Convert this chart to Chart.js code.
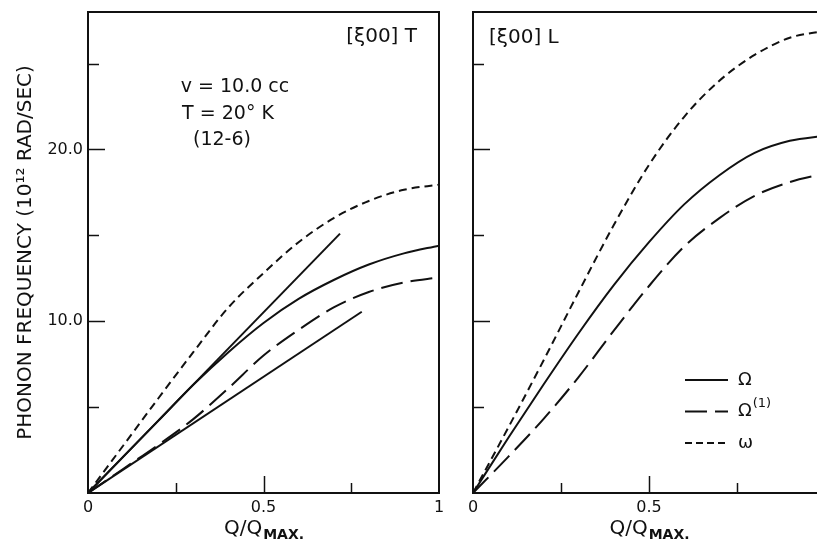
<!DOCTYPE html>
<html>
<head>
  <title>Phonon frequencies [ξ00]</title>
  <meta charset="UTF-8">
  <script src="https://cdn.jsdelivr.net/npm/chart.js"></script>
  <style>
    html, body {
      margin: 0;
      padding: 0;
      background: #fff;
      overflow: hidden;
      width: 817px;
      height: 540px;
    }
    .panel { position: absolute; top: 0; }
    #leftChart { left: 0; }
    #rightChart { left: 450px; }
  </style>
</head>
<body>
  <canvas id="leftChart" class="panel" width="460" height="540"></canvas>
  <canvas id="rightChart" class="panel" width="400" height="540"></canvas>

  <script>
    // Q/QMAX sample points of the dispersion curves
    const qValues = [0, 0.1, 0.2, 0.3, 0.4, 0.5, 0.6, 0.7, 0.8, 0.9, 1.0];

    // [ξ00] T branch (10^12 rad/sec)
    const tOmega     = [0, 2.1, 4.2, 6.3, 8.2, 9.9, 11.3, 12.4, 13.3, 13.95, 14.4];
    const tOmega1    = [0, 1.4, 2.8, 4.3, 6.1, 8.0, 9.5, 10.8, 11.7, 12.25, 12.55];
    const tOmegaBare = [0, 2.75, 5.5, 8.2, 10.8, 12.8, 14.6, 16.0, 17.0, 17.65, 17.95];
    // straight lines from the origin
    const tUpperLineQ = [0, 0.718];
    const tUpperLineF = [0, 15.1];
    const tLowerLineQ = [0, 0.78];
    const tLowerLineF = [0, 10.55];

    // [ξ00] L branch
    const lOmega     = [0, 3.2, 6.3, 9.3, 12.1, 14.6, 16.8, 18.5, 19.8, 20.5, 20.8];
    const lOmega1    = [0, 2.1, 4.3, 6.75, 9.45, 12.05, 14.35, 16.0, 17.3, 18.1, 18.6];
    const lOmegaBare = [0, 3.8, 7.7, 11.7, 15.6, 19.1, 21.9, 24.0, 25.5, 26.5, 26.9];

    // axes
    const yTickValues = [5, 10, 15, 20, 25];
    const yLabelValues = [10, 20];
    const yLabelTexts = ['10.0', '20.0'];
    const xTickValues = [0.25, 0.5, 0.75];
    const xLabelValues = [0, 0.5, 1];
    const xLabelTexts = ['0', '0.5', '1'];

    // legend
    const legendMain = ['Ω', 'Ω', 'ω'];
    const legendSup = ['', '(1)', ''];

    const INK = '#111';
    const FONT = '"DejaVu Sans", sans-serif';
    const SOLID = [];
    const LONG_DASH = [22, 8];
    const SHORT_DASH = [8, 5];

    const toPoints = (xs, ys) => xs.map((q, i) => ({ x: q, y: ys[i] }));

    const curve = (xs, ys, dash) => ({
      data: toPoints(xs, ys),
      borderColor: INK,
      borderWidth: 2,
      borderDash: dash,
      pointRadius: 0,
      fill: false,
      cubicInterpolationMode: 'monotone'
    });

    // frame, inward ticks, notes, legend and the Q/QMAX title
    const panelDecor = {
      id: 'panelDecor',
      afterDraw(chart, args, opts) {
        const { ctx, chartArea: a } = chart;
        const x = chart.scales.x, y = chart.scales.y;
        ctx.save();
        ctx.strokeStyle = INK;
        ctx.fillStyle = INK;
        ctx.lineWidth = 2;
        ctx.strokeRect(a.left, a.top, a.right - a.left, a.bottom - a.top);

        ctx.lineWidth = 1.5;
        yTickValues.forEach(v => {
          const py = Math.round(y.getPixelForValue(v)) + 0.5;
          const len = v % 10 === 0 ? 17 : 11;
          ctx.beginPath();
          ctx.moveTo(a.left, py);
          ctx.lineTo(a.left + len, py);
          ctx.stroke();
        });
        xTickValues.forEach(v => {
          const px = Math.round(x.getPixelForValue(v)) + 0.5;
          const len = v === 0.5 ? 17 : 10;
          ctx.beginPath();
          ctx.moveTo(px, a.bottom);
          ctx.lineTo(px, a.bottom - len);
          ctx.stroke();
        });

        ctx.textBaseline = 'middle';
        (opts.notes || []).forEach(n => {
          ctx.font = (n.size || 18) + 'px ' + FONT;
          ctx.textAlign = n.align || 'center';
          ctx.fillText(n.text, n.x, n.y);
        });

        if (opts.legend) {
          const L = opts.legend;
          const styles = [SOLID, LONG_DASH, [7, 4]];
          legendMain.forEach((txt, i) => {
            const ly = L.y + i * L.gap;
            ctx.lineWidth = 2;
            ctx.setLineDash(styles[i]);
            ctx.beginPath();
            ctx.moveTo(L.x, ly);
            ctx.lineTo(L.x + L.len, ly);
            ctx.stroke();
            ctx.setLineDash([]);
            ctx.textAlign = 'left';
            ctx.font = '18px ' + FONT;
            ctx.fillText(txt, L.x + L.len + 10, ly);
            if (legendSup[i]) {
              const w = ctx.measureText(txt).width;
              ctx.font = '13px ' + FONT;
              ctx.fillText(legendSup[i], L.x + L.len + 11 + w, ly - 8);
            }
          });
        }

        // x title: Q/Q with subscript MAX.
        const cx = (a.left + a.right) / 2;
        const ty = chart.height - 11;
        ctx.font = '20px ' + FONT;
        const main = 'Q/Q';
        const wMain = ctx.measureText(main).width;
        ctx.font = 'bold 14px ' + FONT;
        const sub = 'MAX.';
        const wSub = ctx.measureText(sub).width;
        const start = (opts.titleX !== undefined ? opts.titleX : cx) - (wMain + wSub) / 2;
        ctx.textAlign = 'left';
        ctx.font = '20px ' + FONT;
        ctx.fillText(main, start, ty);
        ctx.font = 'bold 14px ' + FONT;
        ctx.fillText(sub, start + wMain + 1, ty + 6);
        ctx.restore();
      }
    };

    function makeOptions(withLabels, yAxisWidth, padRight, decor) {
      return {
        responsive: false,
        animation: false,
        devicePixelRatio: 1,
        layout: { padding: { top: 12, right: padRight, left: 0, bottom: 0 } },
        scales: {
          x: {
            type: 'linear',
            min: 0,
            max: 1,
            grid: { display: false, drawTicks: false },
            border: { display: false },
            afterFit: s => {
              s.height = 47;
              s.paddingLeft = 0;
              s.paddingRight = 0;
            },
            ticks: {
              stepSize: 0.25,
              autoSkip: false,
              maxRotation: 0,
              padding: 5,
              color: INK,
              font: { family: FONT, size: 16 },
              callback: v => {
                const i = xLabelValues.indexOf(v);
                return i >= 0 ? xLabelTexts[i] : '';
              }
            }
          },
          y: {
            min: 0,
            max: 28,
            grid: { display: false, drawTicks: false },
            border: { display: false },
            afterFit: s => {
              s.width = yAxisWidth;
              s.paddingTop = 0;
              s.paddingBottom = 0;
            },
            ticks: {
              display: withLabels,
              stepSize: 5,
              autoSkip: false,
              padding: 5,
              color: INK,
              font: { family: FONT, size: 16 },
              callback: v => {
                const i = yLabelValues.indexOf(v);
                return i >= 0 ? yLabelTexts[i] : '';
              }
            },
            title: {
              display: withLabels,
              text: 'PHONON FREQUENCY (10¹² RAD/SEC)',
              color: INK,
              font: { family: FONT, size: 20 },
              padding: { top: 14, bottom: 0 }
            }
          }
        },
        plugins: {
          legend: { display: false },
          tooltip: { enabled: false },
          panelDecor: decor
        }
      };
    }

    new Chart(document.getElementById('leftChart'), {
      type: 'line',
      data: {
        datasets: [
          curve(qValues, tOmegaBare, SHORT_DASH),
          curve(tUpperLineQ, tUpperLineF, SOLID),
          curve(qValues, tOmega, SOLID),
          curve(qValues, tOmega1, LONG_DASH),
          curve(tLowerLineQ, tLowerLineF, SOLID)
        ]
      },
      options: makeOptions(true, 88, 21, {
        notes: [
          { text: '[ξ00] T', x: 417, y: 37, align: 'right', size: 20 },
          { text: 'v = 10.0 cc', x: 235, y: 87, size: 19 },
          { text: 'T = 20° K', x: 228, y: 114, size: 19 },
          { text: '(12-6)', x: 222, y: 140, size: 19 }
        ]
      }),
      plugins: [panelDecor]
    });

    new Chart(document.getElementById('rightChart'), {
      type: 'line',
      data: {
        datasets: [
          curve(qValues, lOmegaBare, SHORT_DASH),
          curve(qValues, lOmega, SOLID),
          curve(qValues, lOmega1, LONG_DASH)
        ]
      },
      options: makeOptions(false, 23, 25, {
        notes: [
          { text: '[ξ00] L', x: 39, y: 38, align: 'left', size: 20 }
        ],
        legend: { x: 235, y: 380, gap: 31.5, len: 43 },
        titleX: 199
      }),
      plugins: [panelDecor]
    });
  </script>
</body>
</html>
